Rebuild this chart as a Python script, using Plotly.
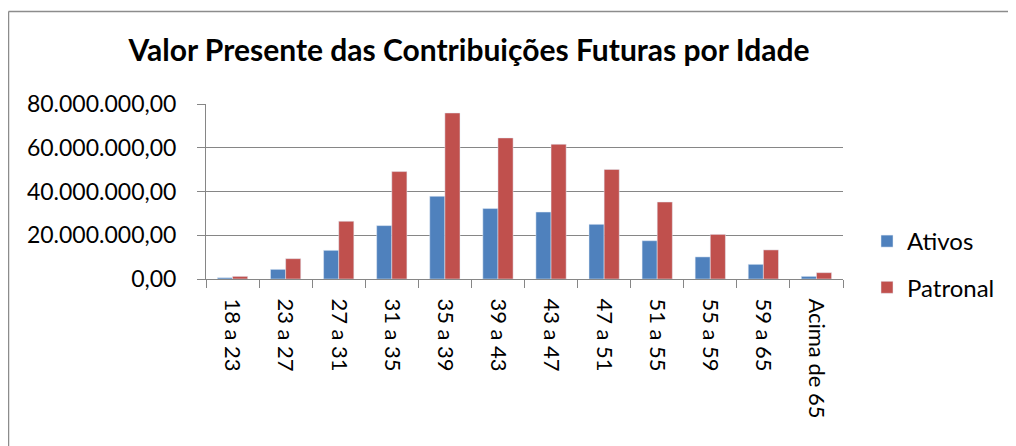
import plotly.graph_objects as go

categories = ["18 a 23", "23 a 27", "27 a 31", "31 a 35", "35 a 39", "39 a 43",
              "43 a 47", "47 a 51", "51 a 55", "55 a 59", "59 a 65", "Acima de 65"]
ativos = [0.6e6, 4.4e6, 13.1e6, 24.4e6, 37.8e6, 32.2e6,
          30.6e6, 25.0e6, 17.5e6, 10.1e6, 6.7e6, 1.2e6]
patronal = [1.2e6, 9.3e6, 26.4e6, 49.1e6, 75.9e6, 64.5e6,
            61.6e6, 50.1e6, 35.2e6, 20.4e6, 13.3e6, 2.9e6]
y_ticks = [0, 20e6, 40e6, 60e6, 80e6]

FONT = "Lato"
OFF = 8  # page body margin
W, H = 1016 - OFF, 446 - OFF
L, T = 206 - OFF, 104 - OFF
R = W - (843 - OFF)
B = H - (279 - OFF)
pw, ph = W - L - R, H - T - B

def px_to_paper_x(px):
    return (px - OFF - L) / pw

def px_to_paper_y(py):
    return (H - B - (py - OFF)) / ph

fig = go.Figure()
fig.add_trace(go.Bar(x=categories, y=ativos, name="Ativos", marker_color="#4F81BD",
                     legendgroup="a"))
fig.add_trace(go.Bar(x=categories, y=patronal, name="Patronal", marker_color="#C0504D",
                     legendgroup="b"))

border = dict(color="#8C8C8C", width=1.5)
fig.update_layout(
    width=W, height=H,
    margin=dict(l=L, r=R, t=T, b=B, autoexpand=False),
    paper_bgcolor="white", plot_bgcolor="white",
    separators=",.",
    font=dict(family=FONT, size=20, color="black"),
    title=dict(text="<b>Valor Presente das Contribuições Futuras por Idade</b>",
               x=(469 - OFF) / W, xanchor="center", y=1 - (50 - OFF) / H, yanchor="middle",
               font=dict(family=FONT, size=30, color="black")),
    barmode="group", bargap=0.43, bargroupgap=0,
    legend=dict(x=px_to_paper_x(867), xanchor="left", y=px_to_paper_y(219), yanchor="top",
                font=dict(family=FONT, size=24), tracegroupgap=12, itemwidth=30,
                bgcolor="rgba(0,0,0,0)"),
    shapes=[
        dict(type="line", xref="paper", yref="paper",
             x0=px_to_paper_x(8.5), x1=px_to_paper_x(1016),
             y0=px_to_paper_y(11.5), y1=px_to_paper_y(11.5), line=border, layer="below"),
        dict(type="line", xref="paper", yref="paper",
             x0=px_to_paper_x(8.5), x1=px_to_paper_x(8.5),
             y0=px_to_paper_y(11.5), y1=px_to_paper_y(446), line=border, layer="below"),
    ],
)
fig.update_xaxes(type="category", tickangle=90, showline=True, linecolor="#868686",
                 linewidth=1, ticks="outside", tickson="boundaries", ticklen=8,
                 tickcolor="#868686", showgrid=False, ticklabelstandoff=14,
                 tickfont=dict(family=FONT, size=22))
fig.update_yaxes(range=[0, 80e6], tickvals=y_ticks, tickformat=",.2f",
                 showgrid=True, gridcolor="#868686", gridwidth=1,
                 showline=True, linecolor="#868686", linewidth=1,
                 ticks="outside", ticklen=8, tickcolor="#868686", ticklabelstandoff=16,
                 zeroline=False, tickfont=dict(family=FONT, size=23))

fig.write_html("out.html")
